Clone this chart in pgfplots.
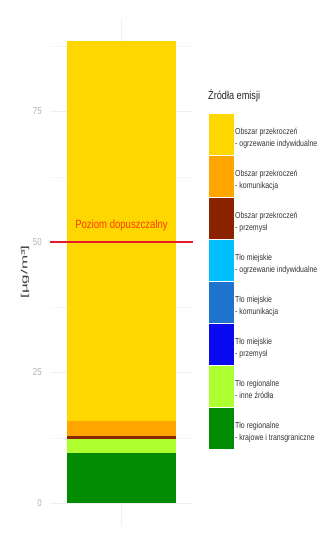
\documentclass[border=0pt]{standalone}
\usepackage{pgfplots}
\pgfplotsset{compat=1.18}
\usepackage{fontspec}
\setmainfont{Liberation Sans}[FakeStretch=0.8]
\newfontfamily\plainfont{Liberation Sans}
\definecolor{cYellow}{RGB}{255,215,0}
\definecolor{cOrange}{RGB}{255,165,0}
\definecolor{cBrown}{RGB}{139,34,0}
\definecolor{cLBlue}{RGB}{0,191,255}
\definecolor{cMBlue}{RGB}{30,115,205}
\definecolor{cBlue}{RGB}{10,10,240}
\definecolor{cLGreen}{RGB}{173,255,47}
\definecolor{cDGreen}{RGB}{0,139,0}
\definecolor{cLine}{RGB}{232,28,40}
\definecolor{cText}{RGB}{255,60,0}
\begin{document}
\begin{tikzpicture}
\path[use as bounding box, fill=white] (0,0) rectangle (330bp,551bp);
\begin{axis}[
  at={(50bp,25bp)}, anchor=south west,
  scale only axis, width=143bp, height=508bp,
  xmin=0.41, xmax=1.59, ymin=-4.4, ymax=92.9,
  axis line style={draw=none},
  major tick style={draw=none}, minor tick style={draw=none},
  xtick={1}, xticklabels={},
  ytick={0,25,50,75},
  minor ytick={12.5,37.5,62.5,87.5},
  xmajorgrids, ymajorgrids, yminorgrids,
  major grid style={gray!12, line width=0.6bp},
  minor grid style={gray!7, line width=0.4bp},
  /pgf/number format/assume math mode=true,
  yticklabel style={font=\fontsize{10}{11}\selectfont, text=gray!60, inner sep=0pt, xshift=-8bp},
  ylabel={\plainfont\scalebox{1.9}[1]{\fontsize{9}{10}\selectfont[µg/m³]}},
  ylabel style={at={(axis description cs:-0.175,0.5)}, anchor=center, text=black!75, inner sep=0pt},
  ybar stacked, bar width=0.9, bar shift=0pt,
  reverse legend,
  legend cell align=left,
  legend style={at={(axis description cs:1.108,0.811)}, anchor=north west, draw=none, fill=none,
    inner sep=0pt, row sep=1bp,
    nodes={align=left, inner xsep=1.5bp, inner ysep=0pt, font=\fontsize{8.75}{12.5}\selectfont, text=black!80}},
  legend image code/.code={\fill[#1, draw=none] (0bp,-17bp) rectangle (25bp,24bp);},
]
\addplot[fill=cDGreen, draw=none] coordinates {(1,9.5)};
\addlegendentry{Tło regionalne\\- krajowe i transgraniczne}
\addplot[fill=cLGreen, draw=none] coordinates {(1,2.85)};
\addlegendentry{Tło regionalne\\- inne źródła}
\addplot[fill=cBlue, draw=none] coordinates {(1,0)};
\addlegendentry{Tło miejskie\\- przemysł}
\addplot[fill=cMBlue, draw=none] coordinates {(1,0)};
\addlegendentry{Tło miejskie\\- komunikacja}
\addplot[fill=cLBlue, draw=none] coordinates {(1,0)};
\addlegendentry{Tło miejskie\\- ogrzewanie indywidualne}
\addplot[fill=cBrown, draw=none] coordinates {(1,0.55)};
\addlegendentry{Obszar przekroczeń\\- przemysł}
\addplot[fill=cOrange, draw=none] coordinates {(1,2.9)};
\addlegendentry{Obszar przekroczeń\\- komunikacja}
\addplot[fill=cYellow, draw=none] coordinates {(1,72.7)};
\addlegendentry{Obszar przekroczeń\\- ogrzewanie indywidualne}
\end{axis}
\begin{axis}[
  at={(50bp,25bp)}, anchor=south west,
  scale only axis, width=143bp, height=508bp,
  xmin=0.41, xmax=1.59, ymin=-4.4, ymax=92.9,
  axis lines=none, ticks=none,
]
\addplot[cLine, line width=2.8bp] coordinates {(0.41,50) (1.59,50)};
\node[text=cText, font=\fontsize{12}{13}\selectfont, anchor=base] at (axis cs:1,52.6) {Poziom dopuszczalny};
\end{axis}
\node[anchor=base west, font=\fontsize{11.5}{13}\selectfont, text=black!85, inner sep=0pt] at (208bp,451bp) {Źródła emisji};
\end{tikzpicture}
\end{document}
